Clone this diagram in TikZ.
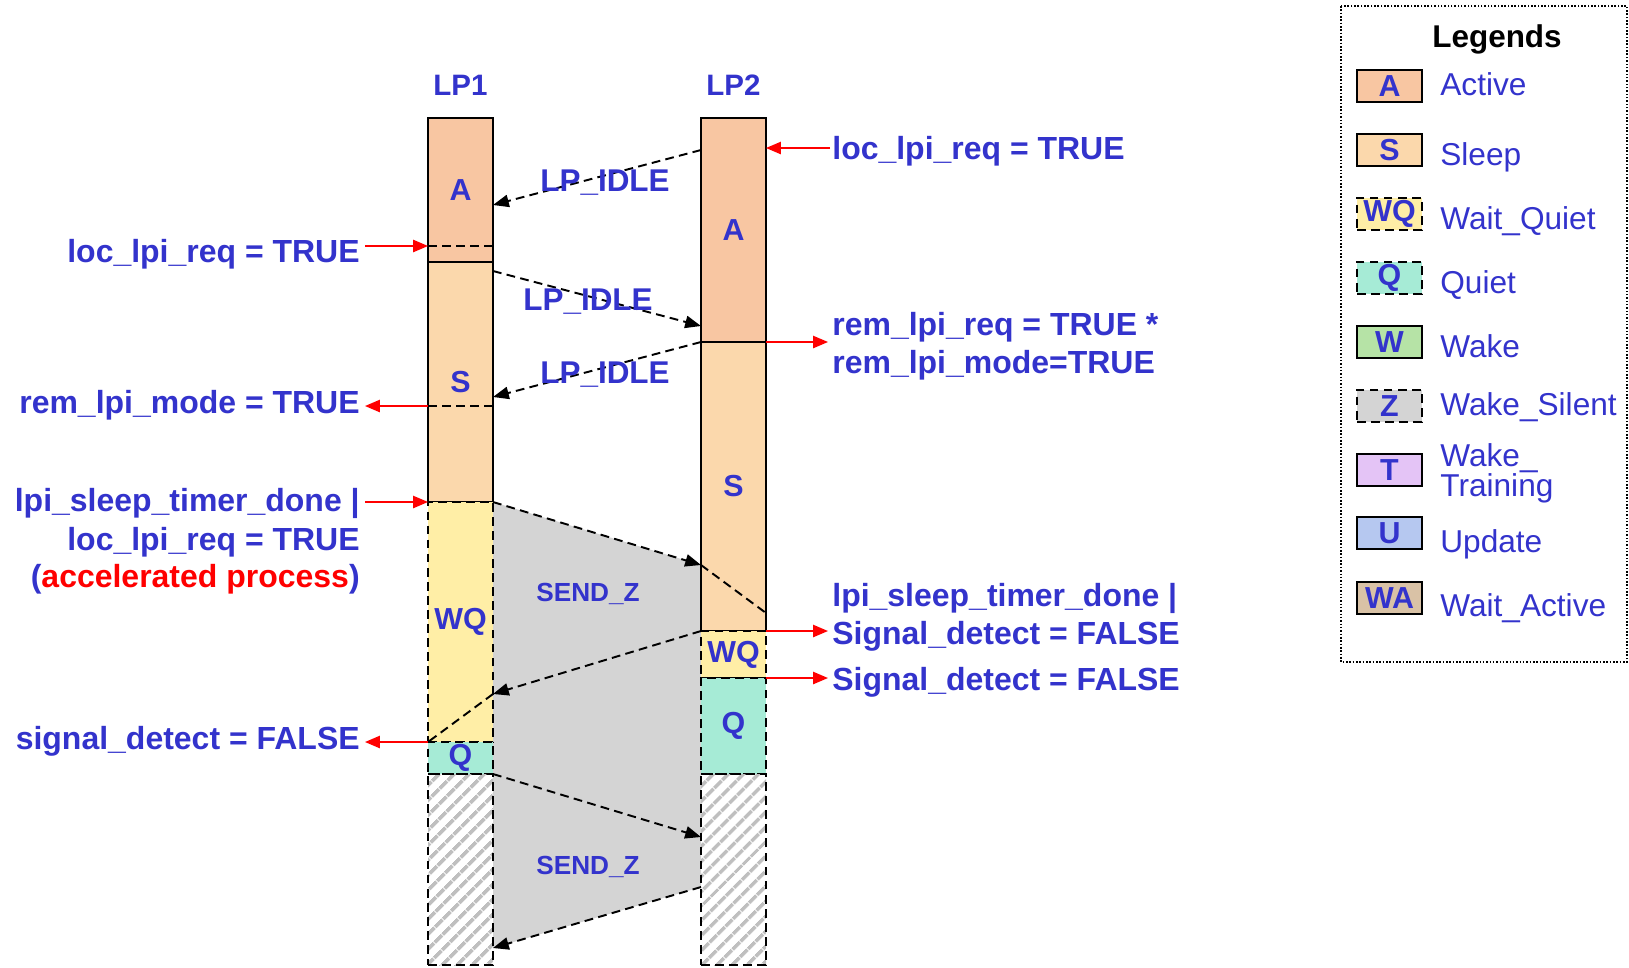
\documentclass[tikz,border=0pt]{standalone}
\usepackage{fontspec}
\setmainfont{Liberation Sans}
\usepackage{xcolor}
\usepackage{tikz}
\usetikzlibrary{arrows.meta,positioning,calc,patterns.meta,backgrounds}
\definecolor{txtblue}{HTML}{3333CC}
\definecolor{actfill}{HTML}{F8C6A2}
\definecolor{slpfill}{HTML}{FBD8AC}
\definecolor{wqfill}{HTML}{FFEEA6}
\definecolor{qfill}{HTML}{A6EBD6}
\definecolor{wfill}{HTML}{B6E3A6}
\definecolor{zfill}{HTML}{D4D4D4}
\definecolor{tfill}{HTML}{E4C4F6}
\definecolor{ufill}{HTML}{B6C8F0}
\definecolor{wafill}{HTML}{D9C2A6}
\definecolor{sendgray}{HTML}{D4D4D4}
\newcommand{\px}{0.02cm}
\newcommand{\condfont}{\fontsize{18.2pt}{21.6pt}\selectfont\bfseries}
\newcommand{\statefont}{\fontsize{17.3pt}{20pt}\selectfont\bfseries}
\newcommand{\idlefont}{\fontsize{17.9pt}{20pt}\selectfont\bfseries}
\newcommand{\sendfont}{\fontsize{14.9pt}{18pt}\selectfont\bfseries}
\newcommand{\headfont}{\fontsize{16.8pt}{20pt}\selectfont\bfseries}
\newcommand{\keyfont}{\fontsize{18pt}{20pt}\selectfont}

\begin{document}
\begin{tikzpicture}[x=0.02cm, y=-0.02cm,
  state/.style={draw=black, line width=1.1pt, minimum width=1.3cm, inner sep=0pt, outer sep=0pt, font=\statefont, text=txtblue},
  dstate/.style={state, dash pattern=on 5pt off 3pt},
  hatched/.style={dstate, pattern={Lines[angle=45,distance=6.5pt,line width=2.4pt]}, pattern color=gray!50},
  msg/.style={line width=1.1pt, dash pattern=on 5pt off 3pt, -{Triangle[length=9pt,width=7pt]}},
  guide/.style={line width=1.1pt, dash pattern=on 5pt off 3pt},
  req/.style={red, line width=0.9pt, -{Triangle[length=8.5pt,width=7pt]}},
  cond/.style={font=\condfont, text=txtblue, inner sep=0pt},
  msgtxt/.style={font=\idlefont, text=txtblue, inner sep=0pt, anchor=base},
  key/.style={state, minimum height=0.64cm},
  keytxt/.style={font=\keyfont, text=txtblue, inner sep=0pt, anchor=base west}]
\useasboundingbox (0,0) rectangle (1629,967);

% lifelines
\node[font=\headfont, text=txtblue, anchor=base] (lp1) at (460.5,95) {LP1};
\node[font=\headfont, text=txtblue, anchor=base] (lp2) at (733.5,95) {LP2};

\node[state, fill=actfill, minimum height=144*\px] (a1) at (460.5,190) {A};
\node[state, fill=slpfill, minimum height=240*\px] (s1) at (460.5,382) {S};
\node[dstate, fill=wqfill, minimum height=240*\px] (wq1) at (460.5,622) {WQ};
\node[dstate, fill=qfill, minimum height=32*\px] (q1) at (460.5,758) {Q};
\node[hatched, minimum height=191*\px] (z1) at (460.5,869.5) {};

\node[state, fill=actfill, minimum height=224*\px] (a2) at (733.5,230) {A};
\node[state, fill=slpfill, minimum height=289*\px] (s2) at (733.5,486.5) {S};
\node[dstate, fill=wqfill, minimum height=47*\px] (wq2) at (733.5,654.5) {WQ};
\node[dstate, fill=qfill, minimum height=96*\px] (q2) at (733.5,726) {Q};
\node[hatched, minimum height=191*\px] (z2) at (733.5,869.5) {};

% message end points
\coordinate (i1s) at ($(a2.north west)+(0,32)$);
\coordinate (i1e) at ($(a1.north east)+(0,87)$);
\coordinate (i2s) at ($(s1.north east)+(0,9)$);
\coordinate (i2e) at ($(a2.south west)+(0,-16)$);
\coordinate (i3e) at ($(s1.north east)+(0,135)$);
\coordinate (z4e) at ($(s2.south west)+(0,-66)$);
\coordinate (z4g) at ($(s2.south east)+(0,-18)$);
\coordinate (z5e) at ($(wq1.south east)+(0,-48)$);
\coordinate (z6e) at ($(z2.north west)+(0,63)$);
\coordinate (z7s) at ($(z2.north west)+(0,113)$);
\coordinate (z7e) at ($(z1.north east)+(0,174)$);

\begin{scope}[on background layer]
\fill[sendgray] (s1.south east) -- (z4e) -- (z7s) -- (z7e) -- cycle;
\end{scope}

\draw[guide] ($(a1.north west)+(0,128)$) -- ($(a1.north east)+(0,128)$);
\draw[guide] ($(s1.north west)+(0,144)$) -- ($(s1.north east)+(0,144)$);
\draw[guide] (z4e) -- (z4g);
\draw[guide] (z5e) -- (wq1.south west);

\draw[msg] (i1s) -- (i1e);
\draw[msg] (i2s) -- (i2e);
\draw[msg] (a2.south west) -- (i3e);
\draw[msg] (s1.south east) -- (z4e);
\draw[msg] (s2.south west) -- (z5e);
\draw[msg] (z1.north east) -- (z6e);
\draw[msg] (z7s) -- (z7e);

\node[msgtxt] (idle1) at (605,191) {LP\_IDLE};
\node[msgtxt] (idle2) at (588,310) {LP\_IDLE};
\node[msgtxt] (idle3) at (605,383) {LP\_IDLE};
\node[msgtxt, font=\sendfont] (send1) at (588,601) {SEND\_Z};
\node[msgtxt, font=\sendfont] (send2) at (588,874) {SEND\_Z};

% conditions, left
\node[cond, anchor=base east] (lreq) at (360,262) {loc\_lpi\_req = TRUE};
\node[cond, anchor=base east] (lmode) at (360,413) {rem\_lpi\_mode = TRUE};
\node[cond, anchor=base east] (ltimer) at (360,511) {lpi\_sleep\_timer\_done |};
\node[cond, anchor=base east] (lreq2) at (360,550) {loc\_lpi\_req = TRUE};
\node[cond, anchor=base east] (lacc) at (360,587) {(\textcolor{red}{accelerated process})};
\node[cond, anchor=base east] (lsig) at (360,749) {signal\_detect = FALSE};

\draw[req] ($(a1.north west)+(-63,128)$) -- ($(a1.north west)+(0,128)$);
\draw[req] ($(s1.north west)+(0,144)$) -- ($(s1.north west)+(-63,144)$);
\draw[req] ($(s1.south west)+(-63,0)$) -- (s1.south west);
\draw[req] (wq1.south west) -- ($(wq1.south west)+(-63,0)$);

% conditions, right
\node[cond, anchor=base west] (rreq) at (832,159) {loc\_lpi\_req = TRUE};
\node[cond, anchor=base west] (rrem) at (832,335) {rem\_lpi\_req = TRUE *};
\node[cond, anchor=base west] (rmode) at (832,373) {rem\_lpi\_mode=TRUE};
\node[cond, anchor=base west] (rtimer) at (832,606) {lpi\_sleep\_timer\_done |};
\node[cond, anchor=base west] (rsig1) at (832,644) {Signal\_detect = FALSE};
\node[cond, anchor=base west] (rsig2) at (832,690) {Signal\_detect = FALSE};

\draw[req] ($(a2.north east)+(64,30)$) -- ($(a2.north east)+(0,30)$);
\draw[req] (a2.south east) -- ($(a2.south east)+(62,0)$);
\draw[req] (s2.south east) -- ($(s2.south east)+(62,0)$);
\draw[req] (wq2.south east) -- ($(wq2.south east)+(62,0)$);

% legend
\draw[line width=0.9pt, densely dotted] (1341,6) rectangle (1627,662);
\node[font=\idlefont, anchor=base] (legtitle) at (1497,47) {Legends};
\node[key, fill=actfill] (ka) at (1389.5,86) {A};
\node[keytxt] (kta) at (1440,95) {Active};
\node[key, fill=slpfill] (ks) at (1389.5,150) {S};
\node[keytxt] (kts) at (1440,165) {Sleep};
\node[key, fill=wqfill, dash pattern=on 5pt off 3pt] (kwq) at (1389.5,214) {WQ};
\node[keytxt] (ktwq) at (1440,229) {Wait\_Quiet};
\node[key, fill=qfill, dash pattern=on 5pt off 3pt] (kq) at (1389.5,278) {Q};
\node[keytxt] (ktq) at (1440,293) {Quiet};
\node[key, fill=wfill] (kw) at (1389.5,342) {W};
\node[keytxt] (ktw) at (1440,357) {Wake};
\node[key, fill=zfill, dash pattern=on 5pt off 3pt] (kz) at (1389.5,406) {Z};
\node[keytxt] (ktz) at (1440,415) {Wake\_Silent};
\node[key, fill=tfill] (kt) at (1389.5,470) {T};
\node[keytxt] (ktt) at (1440,466) {Wake\_};
\node[keytxt] (ktt2) at (1440,496) {Training};
\node[key, fill=ufill] (ku) at (1389.5,533) {U};
\node[keytxt] (ktu) at (1440,552) {Update};
\node[key, fill=wafill] (kwa) at (1389.5,598) {WA};
\node[keytxt] (ktwa) at (1440,616) {Wait\_Active};
\end{tikzpicture}
\end{document}
